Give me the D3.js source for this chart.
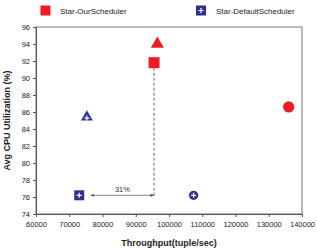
<!DOCTYPE html>
<html>
<head>
<meta charset="utf-8">
<script src="https://cdn.jsdelivr.net/npm/d3@7"></script>
<style>
  body { margin: 0; background: #fff; }
  text { font-family: "Liberation Sans", Arial, sans-serif; }
</style>
</head>
<body>
<svg id="chart" width="317" height="250"></svg>
<script>
// Data
const series = ['Star-OurScheduler', 'Star-DefaultScheduler'];
const ours = [
  { shape: 'square', x: 95500, y: 91.8 },
  { shape: 'triangle', x: 96500, y: 94.0 },
  { shape: 'circle', x: 136000, y: 86.6 },
];
const dflt = [
  { shape: 'square', x: 73000, y: 76.2 },
  { shape: 'triangle', x: 75300, y: 85.4 },
  { shape: 'circle', x: 107400, y: 76.2 },
];
const xTicks = [60000, 70000, 80000, 90000, 100000, 110000, 120000, 130000, 140000];
const yTicks = [74, 76, 78, 80, 82, 84, 86, 88, 90, 92, 94, 96];
// Annotation: dashed drop line and 31% arrow
const gap = { x1: 75300, x2: 95500, y: 76.2, top: 91.8, label: '31%' };

const red = '#ed1c24';
const blue = '#2e3192';

const svg = d3.select('#chart');
const margin = { left: 36, right: 15, top: 27, bottom: 36 };
const width = 317, height = 250;

const x = d3.scaleLinear().domain([60000, 140000]).range([margin.left, width - margin.right]);
const y = d3.scaleLinear().domain([74, 96]).range([height - margin.bottom, margin.top]);

// Frame
svg.append('rect')
  .attr('x', x(60000)).attr('y', y(96))
  .attr('width', x(140000) - x(60000)).attr('height', y(74) - y(96))
  .attr('fill', 'none').attr('stroke', '#555').attr('stroke-width', 0.8);

// Axes
const xAxis = svg.append('g')
  .attr('transform', `translate(0,${y(74)})`)
  .call(d3.axisBottom(x).tickValues(xTicks).tickFormat(d3.format('d')).tickSize(3).tickSizeOuter(0));
const yAxis = svg.append('g')
  .attr('transform', `translate(${x(60000)},0)`)
  .call(d3.axisLeft(y).tickValues(yTicks).tickSize(3).tickSizeOuter(0));
[xAxis, yAxis].forEach(g => {
  g.select('.domain').attr('stroke', '#555');
  g.selectAll('.tick line').attr('stroke', '#555');
  g.selectAll('.tick text')
    .attr('font-size', 7.5)
    .attr('font-family', '"Liberation Sans", Arial, sans-serif')
    .attr('fill', '#222');
});
xAxis.selectAll('.tick text').attr('dy', '0.9em');

// Axis titles
svg.append('text')
  .attr('x', (x(60000) + x(140000)) / 2).attr('y', 246)
  .attr('text-anchor', 'middle').attr('font-size', 9).attr('font-weight', 'bold')
  .attr('fill', '#222')
  .text('Throughput(tuple/sec)');
svg.append('text')
  .attr('transform', `translate(10,${(y(74) + y(96)) / 2}) rotate(-90)`)
  .attr('text-anchor', 'middle').attr('font-size', 9).attr('font-weight', 'bold')
  .attr('fill', '#222')
  .text('Avg CPU Utilization (%)');

// Annotation
svg.append('line')
  .attr('x1', x(gap.x2)).attr('x2', x(gap.x2))
  .attr('y1', y(gap.top)).attr('y2', y(gap.y))
  .attr('stroke', '#666').attr('stroke-width', 1).attr('stroke-dasharray', '3,2');
svg.append('defs').append('marker')
  .attr('id', 'ah').attr('viewBox', '0 0 10 10').attr('refX', 9).attr('refY', 5)
  .attr('markerWidth', 5).attr('markerHeight', 5).attr('orient', 'auto-start-reverse')
  .append('path').attr('d', 'M0,1L10,5L0,9Z').attr('fill', '#555');
svg.append('line')
  .attr('x1', x(gap.x1) + 4).attr('x2', x(gap.x2))
  .attr('y1', y(gap.y)).attr('y2', y(gap.y))
  .attr('stroke', '#666').attr('stroke-width', 0.8)
  .attr('marker-start', 'url(#ah)').attr('marker-end', 'url(#ah)');
svg.append('text')
  .attr('x', (x(gap.x1) + x(gap.x2)) / 2 + 2).attr('y', y(gap.y) - 3)
  .attr('text-anchor', 'middle').attr('font-size', 7.5).attr('fill', '#333')
  .text(gap.label);

// Markers
const symType = { square: d3.symbolSquare, triangle: d3.symbolTriangle, circle: d3.symbolCircle };
const redSize = { square: 121, triangle: 75, circle: 100 };
const blueSize = { square: 100, triangle: 62, circle: 68 };

// white plus drawn on top of the default-scheduler markers
function drawPlus(g, cx, cy) {
  g.append('path')
    .attr('d', `M${cx - 2.5},${cy}H${cx + 2.5}M${cx},${cy - 2.5}V${cy + 2.5}`)
    .attr('stroke', '#fff').attr('stroke-width', 1.2);
}

const pts = svg.append('g');
ours.forEach(d => {
  pts.append('path')
    .attr('transform', `translate(${x(d.x)},${y(d.y)})`)
    .attr('d', d3.symbol(symType[d.shape], redSize[d.shape])())
    .attr('fill', red);
});
dflt.forEach(d => {
  pts.append('path')
    .attr('transform', `translate(${x(d.x)},${y(d.y)})`)
    .attr('d', d3.symbol(symType[d.shape], blueSize[d.shape])())
    .attr('fill', blue);
  drawPlus(pts, x(d.x), y(d.y) + (d.shape === 'triangle' ? 1 : 0));
});

// Legend
const legend = svg.append('g');
const legendPos = [{ sx: 45.5, tx: 60 }, { sx: 201, tx: 216 }];
series.forEach((s, i) => {
  const p = legendPos[i];
  legend.append('rect')
    .attr('x', p.sx - 5).attr('y', 5.5).attr('width', 10).attr('height', 10)
    .attr('fill', i === 0 ? red : blue);
  if (i === 1) drawPlus(legend, p.sx, 10.5);
  legend.append('text')
    .attr('x', p.tx).attr('y', 13.5)
    .attr('font-size', 8).attr('fill', '#222')
    .text(s);
});
</script>
</body>
</html>
